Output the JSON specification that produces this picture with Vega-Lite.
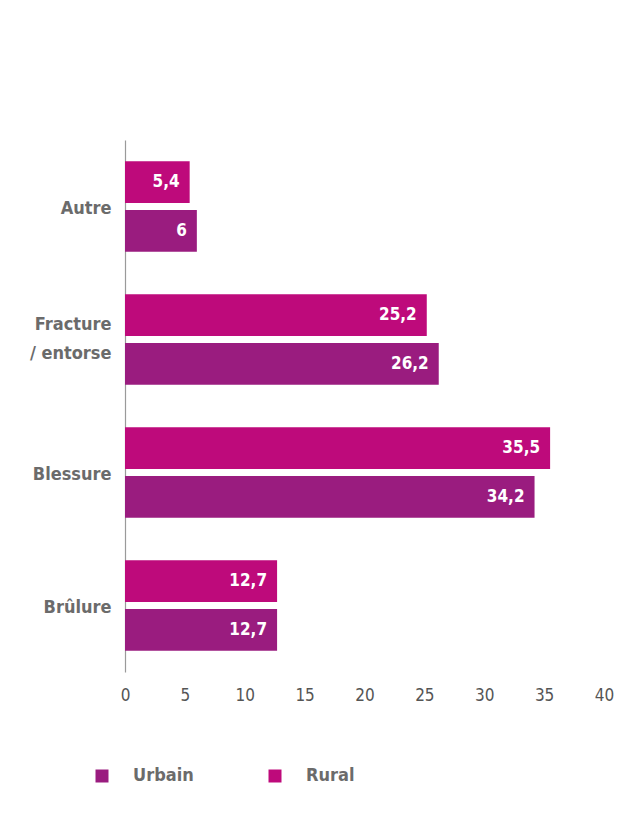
{
  "$schema": "https://vega.github.io/schema/vega-lite/v6.json",
  "autosize": {"type": "none"},
  "width": 479,
  "height": 532,
  "padding": {"left": 125, "top": 140, "right": 20, "bottom": 154},
  "background": "white",
  "data": {
    "values": [
      {"cause": "Autre", "milieu": "Rural", "valeur": 5.4, "label": "5,4"},
      {"cause": "Autre", "milieu": "Urbain", "valeur": 6, "label": "6"},
      {"cause": "Fracture / entorse", "milieu": "Rural", "valeur": 25.2, "label": "25,2"},
      {"cause": "Fracture / entorse", "milieu": "Urbain", "valeur": 26.2, "label": "26,2"},
      {"cause": "Blessure", "milieu": "Rural", "valeur": 35.5, "label": "35,5"},
      {"cause": "Blessure", "milieu": "Urbain", "valeur": 34.2, "label": "34,2"},
      {"cause": "Brûlure", "milieu": "Rural", "valeur": 12.7, "label": "12,7"},
      {"cause": "Brûlure", "milieu": "Urbain", "valeur": 12.7, "label": "12,7"}
    ]
  },
  "encoding": {
    "y": {
      "field": "cause",
      "type": "nominal",
      "sort": ["Autre", "Fracture / entorse", "Blessure", "Brûlure"],
      "scale": {"paddingInner": 0.318, "paddingOuter": 0.159},
      "axis": {
        "title": null,
        "ticks": false,
        "domainColor": "#9a9a9a",
        "domainWidth": 1.2,
        "labelPadding": 14,
        "labelFont": "Liberation Sans Narrow, DejaVu Sans Condensed, sans-serif",
        "labelFontWeight": "bold",
        "labelFontSize": 18,
        "labelColor": "#6b6b6b",
        "labelLineHeight": 29,
        "labelLimit": 200,
        "labelOffset": {"condition": {"test": "datum.label == 'Fracture / entorse'", "value": -15}, "value": 2},
        "labelExpr": "datum.label == 'Fracture / entorse' ? ['Fracture', '/ entorse'] : datum.label"
      }
    },
    "yOffset": {
      "field": "milieu",
      "type": "nominal",
      "sort": ["Rural", "Urbain"],
      "scale": {"paddingInner": 0.143, "paddingOuter": 0}
    },
    "x": {
      "field": "valeur",
      "type": "quantitative",
      "scale": {"domain": [0, 40], "nice": false},
      "axis": {
        "title": null,
        "values": [0, 5, 10, 15, 20, 25, 30, 35, 40],
        "domain": false,
        "ticks": false,
        "grid": false,
        "labelPadding": 15,
        "labelFont": "Liberation Sans Narrow, DejaVu Sans Condensed, sans-serif",
        "labelFontSize": 17,
        "labelColor": "#555555",
        "labelFlush": false
      }
    }
  },
  "layer": [
    {
      "mark": {"type": "bar"},
      "encoding": {
        "color": {
          "field": "milieu",
          "type": "nominal",
          "scale": {"domain": ["Urbain", "Rural"], "range": ["#9a1c7f", "#be0a7b"]},
          "legend": {
            "title": null,
            "orient": "none",
            "direction": "horizontal",
            "legendX": -32,
            "legendY": 627,
            "symbolType": "square",
            "symbolSize": 169,
            "symbolStrokeWidth": 0,
            "symbolOpacity": 1,
            "labelOffset": 22,
            "columnPadding": 72,
            "labelFont": "Liberation Sans Narrow, DejaVu Sans Condensed, sans-serif",
            "labelFontWeight": "bold",
            "labelFontSize": 18,
            "labelColor": "#6b6b6b"
          }
        }
      }
    },
    {
      "mark": {
        "type": "text",
        "align": "right",
        "baseline": "middle",
        "dx": -10,
        "color": "white",
        "font": "Liberation Sans Narrow, DejaVu Sans Condensed, sans-serif",
        "fontWeight": "bold",
        "fontSize": 17
      },
      "encoding": {"text": {"field": "label"}}
    }
  ],
  "config": {"view": {"stroke": null}}
}
